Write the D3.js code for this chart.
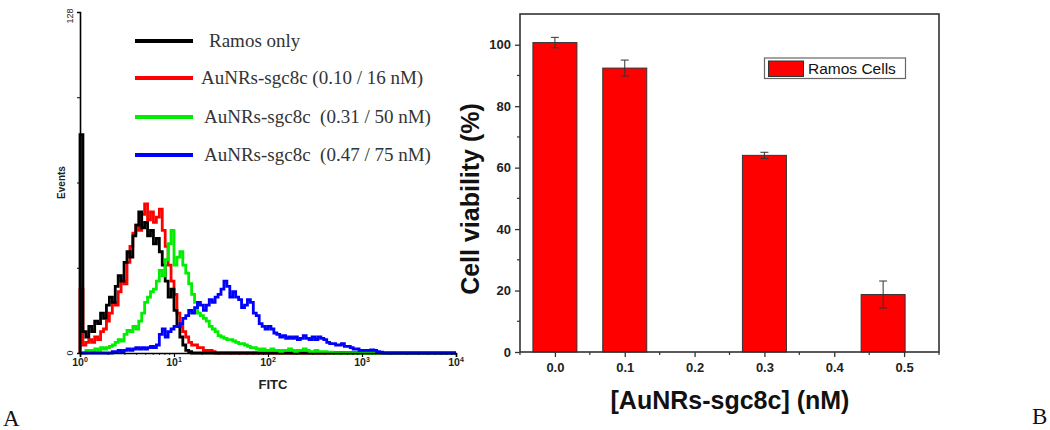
<!DOCTYPE html>
<html><head><meta charset="utf-8">
<script src="https://cdn.jsdelivr.net/npm/d3@7"></script>
<style>
html,body{margin:0;padding:0;background:#fff;}
svg{display:block;}
text{font-family:Arial,"Liberation Sans",sans-serif;}
</style></head>
<body><svg id="c" width="1050" height="430"></svg>
<script>
// ---------- Panel A: flow cytometry histograms (events per channel, 32 channels per decade) ----------
const channelsPerDecade = 32;
const ramosOnly = [82, 8, 6, 10, 8, 12, 11, 15, 13, 18, 21, 19, 25, 29, 27, 34, 38, 36, 44, 48, 53, 47, 49, 44, 46, 41, 43, 38, 33, 27, 21, 24, 16, 10, 6, 3, 1, 0.5];
const au016 = [24, 3, 4, 5, 4, 6, 5, 8, 9, 12, 15, 19, 18, 23, 27, 26, 34, 40, 45, 48, 46, 52, 56, 50, 53, 49, 51, 54, 46, 40, 33, 27, 22, 15, 10, 8, 6, 4, 3, 3, 2, 2, 1, 1, 1, 0.5];
const au050 = [0, 0, 1, 1, 0.5, 1.5, 1, 2, 1.5, 2, 2.5, 3, 4, 5, 4.5, 7, 8.5, 8, 10, 9, 12, 15, 19, 21, 23, 24, 27, 31, 29, 35, 41, 46, 33, 36, 38, 33, 30, 26, 22, 19, 15, 14, 13, 12, 10, 9, 8, 6.5, 6, 5.5, 5, 5, 4.5, 4, 3.5, 3.5, 3, 2.5, 2, 2, 1.5, 1, 1.5, 1, 1, 1.5, 1, 1, 0.5, 1, 1, 1.5, 1, 0.5, 1, 1, 1.5, 1, 0.5, 0.5, 1, 0.5, 0.5, 0.5, 0.3, 0.3];
const au075 = [0, 0, 0, 0, 0, 0, 0, 0, 0, 0, 0, 0.5, 0.5, 1, 0.5, 1, 1.5, 1, 1.5, 2, 1.5, 2, 1.5, 2, 2.5, 2, 3, 7, 9, 6, 8, 9, 10, 10, 11, 13, 14, 16, 15, 17, 19, 18, 16, 18, 20, 19, 21, 22, 24, 27, 25, 21, 23, 21, 20, 17, 18, 20, 19, 15, 14, 11, 10, 9, 10, 9, 7.5, 7, 6, 6.5, 5.5, 6, 5.5, 6, 5, 5.5, 6.5, 5.5, 5, 6, 5, 6, 5.5, 5, 4, 3.5, 3.5, 3, 3, 3.5, 2.5, 2.5, 2, 1.5, 1.5, 1, 1, 1, 1, 1.2, 1, 0.5, 0.3];
const histNames = ["Ramos only", "AuNRs-sgc8c (0.10 / 16 nM)", "AuNRs-sgc8c  (0.31 / 50 nM)", "AuNRs-sgc8c  (0.47 / 75 nM)"];
const histColors = ["#000000", "#ff0000", "#00ee00", "#0000ff"];
const fitcDecades = [1, 10, 100, 1000, 10000];
const fitcDecadeLabels = ["0", "1", "2", "3", "4"];
const eventTicks = [0, 32, 64, 96, 128];

// ---------- Panel B: cell viability ----------
const conc = [0, 0.1, 0.3, 0.47];
const viability = [100.7, 92.4, 64.0, 18.7];
const viabilityErr = [1.7, 2.6, 1.0, 4.4];
const concTicks = [0, 0.1, 0.2, 0.3, 0.4, 0.5];
const viabTicks = [0, 20, 40, 60, 80, 100];

const svg = d3.select("#c");

// ===== Panel A =====
const A = {l: 80, r: 456, t: 12, b: 353};
const xA = d3.scaleLog().domain([1, 10000]).range([A.l, A.r]);
const yA = d3.scaleLinear().domain([0, 128]).range([A.b, A.t]);
const gA = svg.append("g");

const series = [au016, ramosOnly, au050, au075];
const seriesColor = [histColors[1], histColors[0], histColors[2], histColors[3]];
const line = d3.line().x(d => xA(d[0])).y(d => yA(d[1])).curve(d3.curveStepAfter);
series.forEach((s, k) => {
  const pts = [[1, 0]];
  s.forEach((v, i) => pts.push([Math.pow(10, i / channelsPerDecade), v]));
  pts.push([Math.pow(10, s.length / channelsPerDecade), 0]);
  pts.push([10000, 0]);
  gA.append("path").attr("d", line(pts)).attr("fill", "none")
    .attr("stroke", seriesColor[k]).attr("stroke-width", 2.8).attr("stroke-linejoin", "miter");
});

// axes A
const axA = d3.axisBottom(xA).tickValues(fitcDecades).tickSize(4).tickFormat("");
const gxA = gA.append("g").attr("transform", `translate(0,${A.b})`).call(axA);
gxA.select(".domain").attr("stroke", "#000").attr("stroke-width", 1.6);
gxA.selectAll(".tick line").attr("stroke", "#000").attr("stroke-width", 1.2);
const minorA = [];
for (let d = 1; d < 10000; d *= 10) for (let m = 2; m < 10; m++) minorA.push(d * m);
gA.append("g").selectAll("line").data(minorA).join("line")
  .attr("x1", d => xA(d)).attr("x2", d => xA(d)).attr("y1", A.b).attr("y2", A.b + 2)
  .attr("stroke", "#000").attr("stroke-width", 0.8);
fitcDecades.forEach((d, i) => {
  const t = gA.append("text").attr("x", xA(d)).attr("y", A.b + 13).attr("text-anchor", "middle")
    .attr("font-size", 10.5).attr("font-weight", "bold").attr("fill", "#222");
  t.append("tspan").text("10");
  t.append("tspan").attr("dy", -4).attr("font-size", 7).text(fitcDecadeLabels[i]);
});
const ayA = d3.axisLeft(yA).tickValues(eventTicks).tickSize(3).tickFormat("");
const gyA = gA.append("g").attr("transform", `translate(${A.l},0)`).call(ayA);
gyA.select(".domain").attr("stroke", "#000").attr("stroke-width", 1.6);
gyA.selectAll(".tick line").attr("stroke", "#000");
[[0, "0"], [128, "128"]].forEach(([v, s]) => {
  gA.append("text").attr("transform", `translate(${A.l - 7},${yA(v) + (v ? 4 : 0)}) rotate(-90)`)
    .attr("text-anchor", "middle").attr("font-size", 9).attr("fill", "#222").text(s);
});
gA.append("text").attr("transform", `translate(65,${(A.t + A.b) / 2}) rotate(-90)`)
  .attr("text-anchor", "middle").attr("font-size", 10).attr("font-weight", "bold").attr("fill", "#222").text("Events");
gA.append("text").attr("x", 273).attr("y", 389).attr("text-anchor", "middle")
  .attr("font-size", 13).attr("font-weight", "bold").attr("fill", "#222").text("FITC");

// legend A
const legY = [41, 78, 117, 155];
const legTx = [209, 201, 204, 204];
histNames.forEach((n, i) => {
  gA.append("line").attr("x1", 135).attr("x2", 193).attr("y1", legY[i]).attr("y2", legY[i])
    .attr("stroke", histColors[i]).attr("stroke-width", 4);
  gA.append("text").attr("x", legTx[i]).attr("y", legY[i] + 5.5).attr("font-size", 19)
    .style("font-family", "'Liberation Serif','Times New Roman',serif").style("white-space", "pre")
    .attr("fill", "#333").text(n);
});

// ===== Panel B =====
const B = {l: 520, r: 939, t: 14, b: 352};
const xB = d3.scaleLinear().domain([-0.05, 0.55]).range([B.l, B.r]);
const yB = d3.scaleLinear().domain([0, 110]).range([B.b, B.t]);
const gB = svg.append("g");
const barW = xB(0.063) - xB(0);
gB.selectAll("rect.bar").data(conc).join("rect").attr("class", "bar")
  .attr("x", d => xB(d) - barW / 2).attr("width", barW)
  .attr("y", (d, i) => yB(viability[i])).attr("height", (d, i) => yB(0) - yB(viability[i]))
  .attr("fill", "#ff0000").attr("stroke", "#333").attr("stroke-width", 1);
// error bars
conc.forEach((c, i) => {
  const x = xB(c), y1 = yB(viability[i] + viabilityErr[i]), y2 = yB(viability[i] - viabilityErr[i]);
  gB.append("line").attr("x1", x).attr("x2", x).attr("y1", y1).attr("y2", y2).attr("stroke", "#333").attr("stroke-width", 1);
  [y1, y2].forEach(y => gB.append("line").attr("x1", x - 4).attr("x2", x + 4).attr("y1", y).attr("y2", y).attr("stroke", "#333").attr("stroke-width", 1));
});
// frame
gB.append("rect").attr("x", B.l).attr("y", B.t).attr("width", B.r - B.l).attr("height", B.b - B.t)
  .attr("fill", "none").attr("stroke", "#333").attr("stroke-width", 1.6);
const axB = d3.axisBottom(xB).tickValues(concTicks).tickSize(5).tickPadding(6).tickFormat(d3.format(".1f"));
const gxB = gB.append("g").attr("transform", `translate(0,${B.b})`).call(axB);
gxB.select(".domain").remove();
gxB.selectAll(".tick line").attr("stroke", "#333").attr("stroke-width", 1.3);
gxB.selectAll("text").attr("font-size", 13).attr("font-weight", "bold").attr("fill", "#222")
  .style("font-family", "Arial,'Liberation Sans',sans-serif");
gB.append("g").selectAll("line").data([-0.05, 0.05, 0.15, 0.25, 0.35, 0.45, 0.55]).join("line")
  .attr("x1", d => xB(d)).attr("x2", d => xB(d)).attr("y1", B.b).attr("y2", B.b + 3).attr("stroke", "#333").attr("stroke-width", 1.2);
const ayB = d3.axisLeft(yB).tickValues(viabTicks).tickSize(5).tickPadding(4).tickFormat(d3.format("d"));
const gyB = gB.append("g").attr("transform", `translate(${B.l},0)`).call(ayB);
gyB.select(".domain").remove();
gyB.selectAll(".tick line").attr("stroke", "#333").attr("stroke-width", 1.3);
gyB.selectAll("text").attr("font-size", 13).attr("font-weight", "bold").attr("fill", "#222")
  .style("font-family", "Arial,'Liberation Sans',sans-serif");
gB.append("g").selectAll("line").data([10, 30, 50, 70, 90]).join("line")
  .attr("x1", B.l - 3).attr("x2", B.l).attr("y1", d => yB(d)).attr("y2", d => yB(d)).attr("stroke", "#333").attr("stroke-width", 1.2);
gB.append("text").attr("transform", `translate(479,${(B.t + B.b) / 2 + 16}) rotate(-90)`)
  .attr("text-anchor", "middle").attr("font-size", 25).attr("font-weight", "bold").attr("fill", "#111").text("Cell viability (%)");
gB.append("text").attr("x", 730).attr("y", 409).attr("text-anchor", "middle")
  .attr("font-size", 25).attr("font-weight", "bold").attr("fill", "#111").text("[AuNRs-sgc8c] (nM)");
// legend B
gB.append("rect").attr("x", 764.5).attr("y", 58).attr("width", 141).attr("height", 20.5)
  .attr("fill", "#fff").attr("stroke", "#666").attr("stroke-width", 1.2);
gB.append("rect").attr("x", 768.5).attr("y", 61).attr("width", 35).attr("height", 15.5)
  .attr("fill", "#ff0000").attr("stroke", "#333").attr("stroke-width", 1);
gB.append("text").attr("x", 808).attr("y", 74).attr("font-size", 15.5).attr("fill", "#111").text("Ramos Cells");

// panel letters
svg.append("text").attr("x", 3).attr("y", 426).attr("font-size", 23)
  .style("font-family", "'Liberation Serif','Times New Roman',serif").attr("fill", "#111").text("A");
svg.append("text").attr("x", 1032).attr("y", 424).attr("font-size", 23)
  .style("font-family", "'Liberation Serif','Times New Roman',serif").attr("fill", "#111").text("B");
</script></body></html>
